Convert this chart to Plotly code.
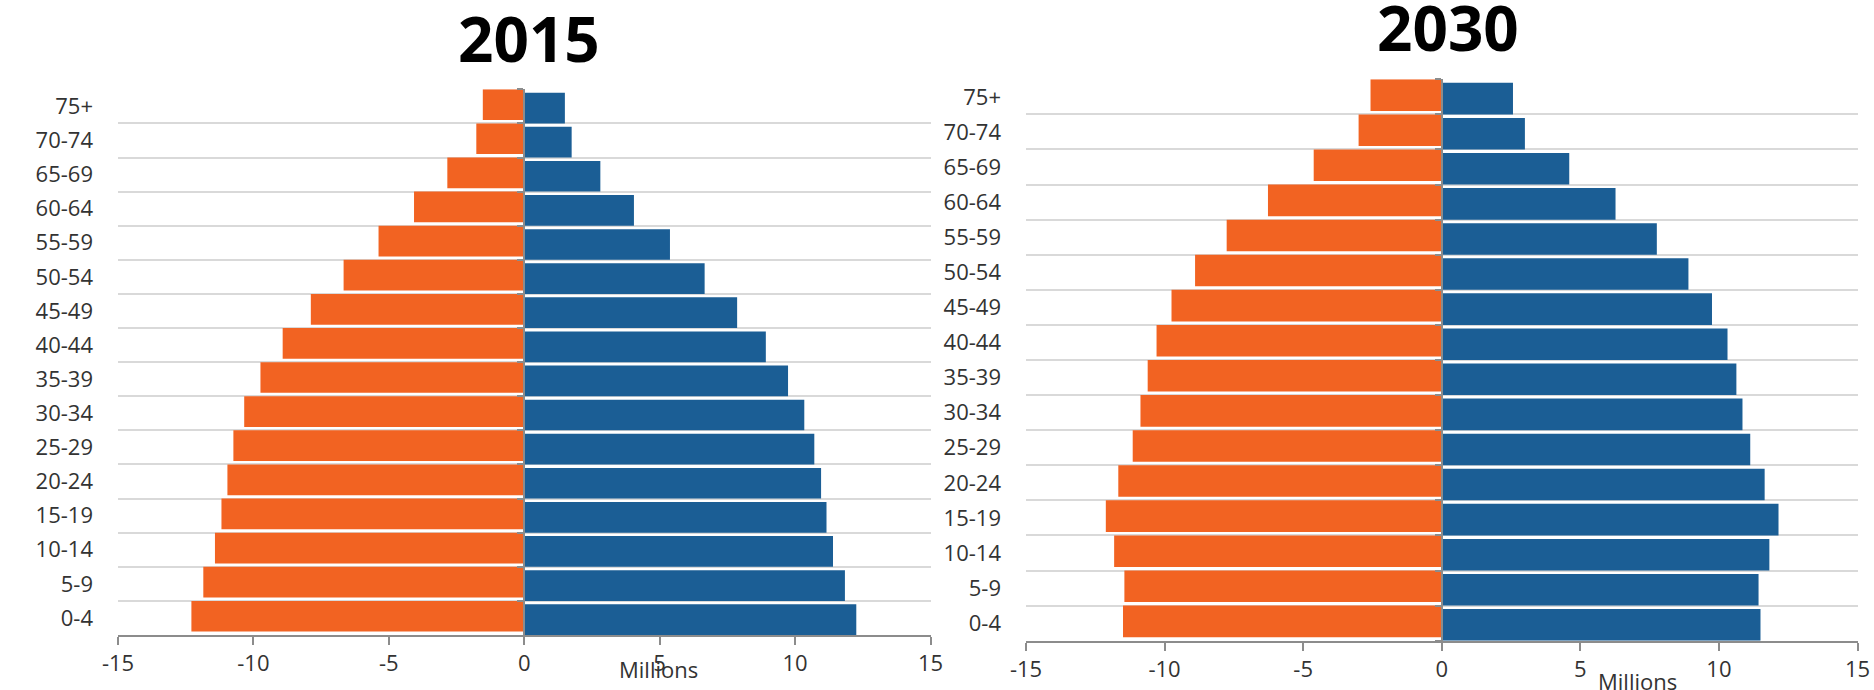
import plotly.graph_objects as go

# Age groups, bottom to top
age_groups = ["0-4", "5-9", "10-14", "15-19", "20-24", "25-29", "30-34", "35-39",
              "40-44", "45-49", "50-54", "55-59", "60-64", "65-69", "70-74", "75+"]

# Population in millions (left side plotted as negative values)
orange_2015 = [-12.29, -11.85, -11.42, -11.18, -10.96, -10.74, -10.34, -9.74,
               -8.92, -7.88, -6.67, -5.38, -4.07, -2.84, -1.77, -1.53]
blue_2015 = [12.26, 11.84, 11.40, 11.16, 10.96, 10.71, 10.34, 9.74,
             8.92, 7.86, 6.66, 5.38, 4.05, 2.81, 1.75, 1.50]

orange_2030 = [-11.50, -11.45, -11.82, -12.12, -11.67, -11.15, -10.87, -10.61,
               -10.29, -9.75, -8.90, -7.76, -6.27, -4.62, -3.00, -2.57]
blue_2030 = [11.50, 11.43, 11.82, 12.15, 11.65, 11.13, 10.85, 10.63,
             10.31, 9.75, 8.90, 7.76, 6.27, 4.60, 3.00, 2.57]

x_ticks = [-15, -10, -5, 0, 5, 10, 15]
titles = ["2015", "2030"]
unit_label = "Millions"

ORANGE = "#F26322"
BLUE = "#1B5E95"
AXIS = "#8C8C8C"
GRID = "#D9D9D9"
TEXT = "#333333"
FONT = "Open Sans"

W, H = 1874, 690

# panel geometry (paper fractions)
panels = [
    dict(xd=[118 / W, 930.5 / W], yd=[1 - 635 / H, 1 - 89.3 / H]),
    dict(xd=[1026 / W, 1857.5 / W], yd=[1 - 640.7 / H, 1 - 79.3 / H]),
]

fig = go.Figure()

data = [(orange_2015, blue_2015), (orange_2030, blue_2030)]
layout = {}
for i, ((left_vals, right_vals), p) in enumerate(zip(data, panels)):
    xn = "x" if i == 0 else "x2"
    yl = "y" if i == 0 else "y2"          # label axis (left edge)
    yz = "y3" if i == 0 else "y4"         # category axis crossing at zero
    fig.add_trace(go.Bar(x=left_vals, y=age_groups, orientation="h",
                         xaxis=xn, yaxis=yz, marker=dict(color=ORANGE, line=dict(width=0)),
                         offset=-0.4, width=0.9, showlegend=False))
    fig.add_trace(go.Bar(x=right_vals, y=age_groups, orientation="h",
                         xaxis=xn, yaxis=yl, marker=dict(color=BLUE, line=dict(width=0)),
                         offset=-0.5, width=0.9, showlegend=False))

    xkey = "xaxis" if i == 0 else "xaxis2"
    ylkey = "yaxis" if i == 0 else "yaxis2"
    yzkey = "yaxis3" if i == 0 else "yaxis4"
    zero_pos = (p["xd"][0] + p["xd"][1]) / 2

    layout[xkey] = dict(domain=p["xd"], anchor=yl, range=[-15, 15], tickvals=x_ticks,
                        ticktext=[str(v) for v in x_ticks], automargin=False,
                        showgrid=False, zeroline=False, showline=True,
                        linecolor=AXIS, linewidth=2, ticks="outside", ticklen=8,
                        tickwidth=2, tickcolor=AXIS,
                        tickfont=dict(family=FONT, size=22, color=TEXT))
    layout[ylkey] = dict(domain=p["yd"], anchor=xn, type="category", automargin=False,
                         categoryorder="array", categoryarray=age_groups,
                         range=[-0.5, len(age_groups) - 0.5], tickson="boundaries",
                         showgrid=True, gridcolor=GRID, gridwidth=2, ticks="",
                         showline=False, zeroline=False, ticklabelstandoff=24,
                         tickfont=dict(family=FONT, size=22, color=TEXT))
    layout[yzkey] = dict(overlaying=yl, anchor="free", position=zero_pos, side="left",
                         type="category", categoryorder="array", categoryarray=age_groups,
                         range=[-0.5, len(age_groups) - 0.5], tickson="boundaries",
                         automargin=False,
                         showgrid=False, zeroline=False, showline=True, linecolor=AXIS,
                         linewidth=2, ticks="outside", ticklen=6, tickwidth=2,
                         tickcolor=AXIS, showticklabels=False)

title_font = dict(family=FONT, size=62, color="#000000")
annotations = [
    dict(text=f"<b>{titles[0]}</b>", xref="paper", yref="paper", x=529 / W, y=1 - 38 / H,
         xanchor="center", yanchor="middle", showarrow=False, height=60, valign="middle",
         font=title_font),
    dict(text=f"<b>{titles[1]}</b>", xref="paper", yref="paper", x=1447.6 / W, y=1 - 27 / H,
         xanchor="center", yanchor="middle", showarrow=False, height=54, valign="middle",
         font=title_font),
    dict(text=unit_label, xref="x", yref="paper", x=4.96, y=1 - 669 / H,
         xanchor="center", yanchor="middle", showarrow=False,
         font=dict(family=FONT, size=22, color=TEXT)),
    dict(text=unit_label, xref="x2", yref="paper", x=7.05, y=1 - 681 / H,
         xanchor="center", yanchor="middle", showarrow=False,
         font=dict(family=FONT, size=22, color=TEXT)),
]

fig.update_layout(
    width=W, height=H,
    margin=dict(l=0, r=0, t=0, b=0, autoexpand=False),
    paper_bgcolor="white", plot_bgcolor="white",
    barmode="overlay",
    annotations=annotations,
    **layout,
)

fig.write_html("out.html")
